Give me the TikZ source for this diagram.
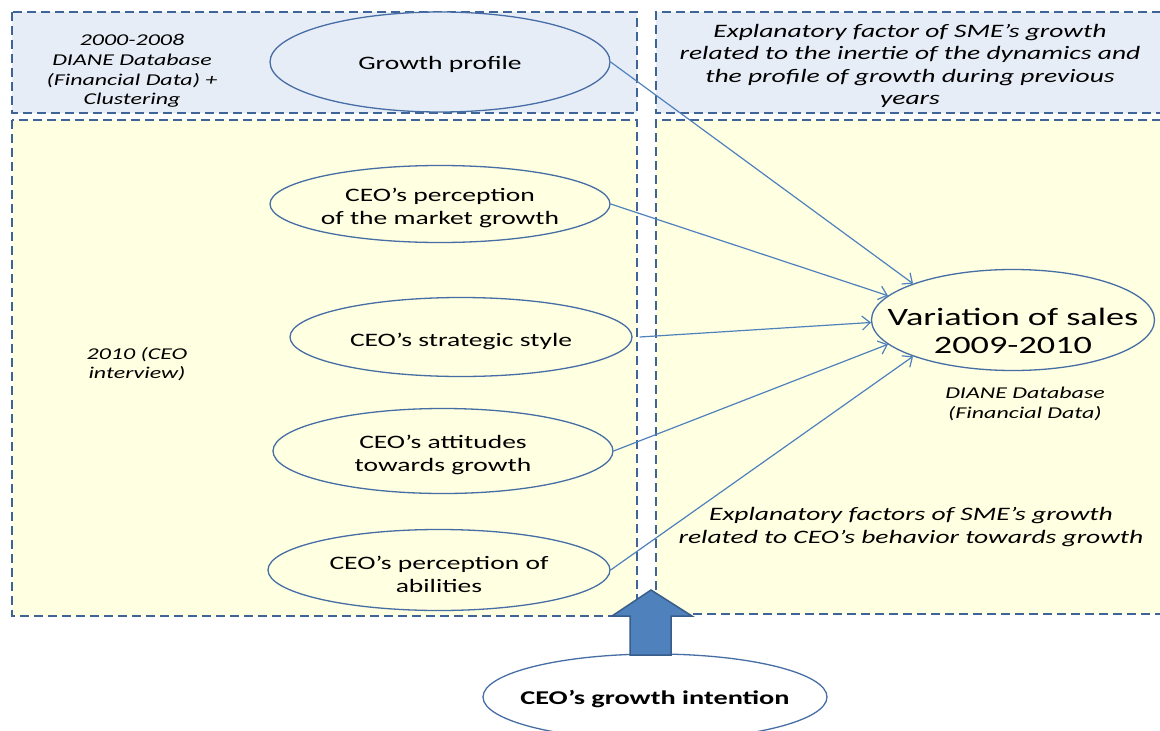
\documentclass[tikz,border=0pt]{standalone}
\usepackage{fontspec}
\setmainfont{Carlito}[FakeStretch=1.45]
\usetikzlibrary{shapes.geometric,arrows.meta}
\definecolor{dashc}{RGB}{62,100,152}
\definecolor{topfill}{RGB}{231,237,247}
\definecolor{botfill}{RGB}{255,255,225}
\definecolor{ellc}{RGB}{70,110,165}
\definecolor{connc}{RGB}{79,129,189}
\definecolor{blockc}{RGB}{79,129,189}
\definecolor{blockd}{RGB}{56,93,138}
\tikzset{
 zone/.style={draw=dashc, line width=2pt, dash pattern=on 9pt off 5pt},
 ell/.style={ellipse, draw=ellc, line width=1.3pt, inner sep=0pt},
 etxt/.style={align=center, inner sep=0pt, font=\fontsize{19}{23}\selectfont},
 conn/.style={draw=connc, line width=1.2pt, -{Straight Barb[length=8pt,width=14pt]}},
 lbl/.style={align=center, font=\fontsize{16.5}{19.7}\selectfont\itshape, inner sep=0pt},
 big/.style={align=center, font=\fontsize{19}{22.5}\selectfont\itshape, inner sep=0pt},
 blockarrow/.style={fill=blockc, draw=blockd, line width=1.5pt, line join=miter}
}
\begin{document}
\begin{tikzpicture}[x=1pt,y=-1pt]
\useasboundingbox (0,0) rectangle (1160,731);
\clip (0,0) rectangle (1160,731);
\fill[white] (0,0) rectangle (1160,731);
% zones
\path[zone, fill=topfill] (12,12) rectangle (637,113);
\path[zone, fill=topfill] (1175,12) -- (656,12) -- (656,113) -- (1175,113);
\path[zone, fill=botfill] (12,120) rectangle (637,616);
\path[zone, fill=botfill] (1175,120) -- (656,120) -- (656,614) -- (1175,614);
% labels
\node[lbl] (l1) at (132,71) {2000-2008\\DIANE Database\\(Financial Data) +\\Clustering};
\node[lbl] (l2) at (137,364) {2010 (CEO\\interview)};
\node[lbl] (l3) at (1025,404) {DIANE Database\\(Financial Data)};
\node[big] (t1) at (910,66) {Explanatory factor of SME’s growth\\related to the inertie of the dynamics and\\the profile of growth during previous\\years};
\node[big] (t2) at (911,527) {Explanatory factors of SME’s growth\\related to CEO’s behavior towards growth};
% ellipses
\node[ell, fill=topfill, minimum width=340pt, minimum height=100pt] (gp) at (440,62) {};
\node[etxt] (gpt) at (440,64) {Growth profile};
\node[ell, fill=botfill, minimum width=340pt, minimum height=77pt] (pm) at (440,204) {};
\node[etxt] (pmt) at (440,208) {CEO’s perception\\of the market growth};
\node[ell, fill=botfill, minimum width=342pt, minimum height=79pt] (ss) at (461,337) {};
\node[etxt] (sst) at (461,341) {CEO’s strategic style};
\node[ell, fill=botfill, minimum width=340pt, minimum height=85pt] (at) at (443,451) {};
\node[etxt] (att) at (443,455) {CEO’s attitudes\\towards growth};
\node[ell, fill=botfill, minimum width=342pt, minimum height=81pt] (pa) at (439,570) {};
\node[etxt] (pat) at (439,574) {CEO’s perception of\\abilities};
\node[ell, fill=botfill, minimum width=283pt, minimum height=101pt] (vs) at (1013,320) {};
\node[etxt, font=\fontsize{25}{28}\selectfont] (vst) at (1013,331) {Variation of sales\\2009-2010};
\node[ell, fill=white, minimum width=344pt, minimum height=86pt] (gi) at (655,697) {};
\node[etxt, font=\fontsize{19.5}{23}\selectfont\bfseries] (git) at (655,699) {CEO’s growth intention};
% connectors
\draw[conn] (gp.east) -- (vs.160);
\draw[conn] (pm.east) -- (vs.169);
\draw[conn] ([xshift=7pt]ss.east) -- (vs.181);
\draw[conn] (at.east) -- (vs.191);
\draw[conn] (pa.east) -- (vs.200);
% block arrow
\draw[blockarrow] (630,655) -- (630,616) -- (612,616) -- (651,590) -- (692,616) -- (671,616) -- (671,655) -- cycle;
\end{tikzpicture}
\end{document}
